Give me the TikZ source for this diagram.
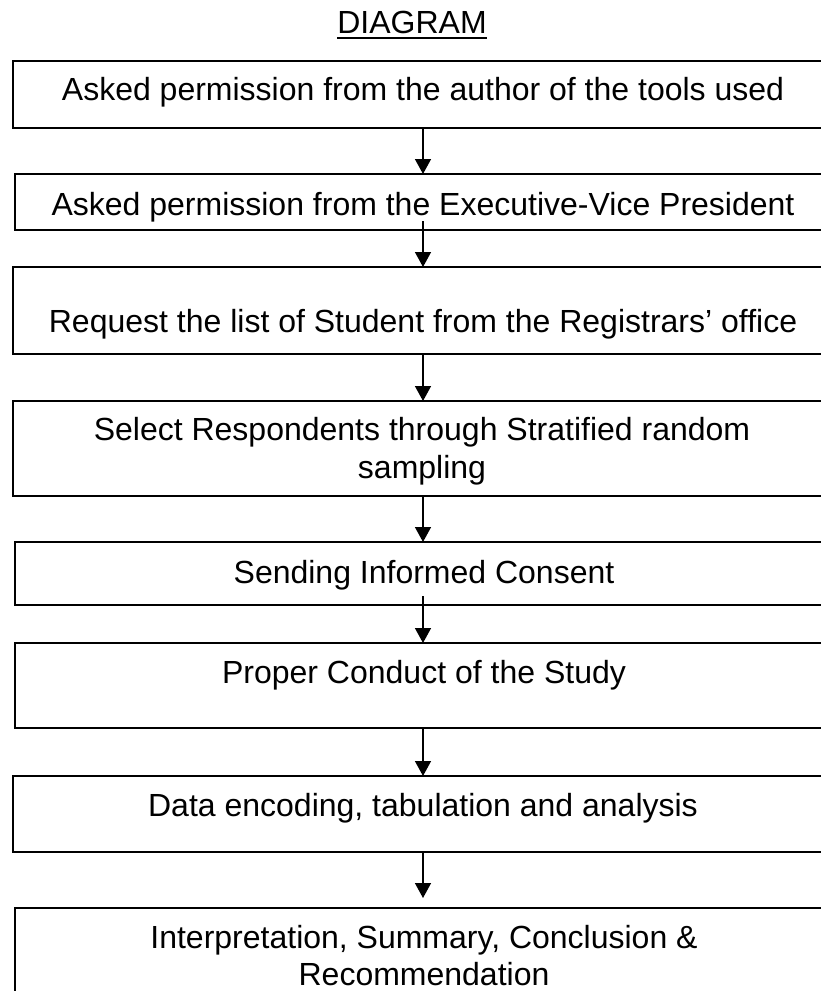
\documentclass[tikz,border=0pt]{standalone}
\usepackage{fontspec}
\setmainfont{Liberation Sans}
\usetikzlibrary{arrows.meta}
\begin{document}
\begin{tikzpicture}[x=1pt,y=-1pt,
  box/.style={draw=black,line width=2pt,rectangle,inner sep=0pt,outer sep=0pt,anchor=north west,minimum width=820pt},
  txt/.style={anchor=base,font=\fontsize{32}{38}\selectfont,inner sep=0pt},
  arr/.style={line width=1.5pt,-{Triangle[width=16pt,length=15pt]}}]
\useasboundingbox (0,0) rectangle (820,991);
% title
\node[txt] (title) at (412,33) {DIAGRAM};
\draw[line width=2pt] ([yshift=-5pt]title.base west) -- ([yshift=-5pt]title.base east);
% boxes
\node[box,minimum height=67pt]  (b1) at (13,61) {};
\node[box,minimum height=56pt]  (b2) at (14.5,174) {};
\node[box,minimum height=87pt]  (b3) at (13,267) {};
\node[box,minimum height=95pt]  (b4) at (13,401) {};
\node[box,minimum height=63pt]  (b5) at (14.5,542) {};
\node[box,minimum height=85pt]  (b6) at (14.5,643) {};
\node[box,minimum height=76pt]  (b7) at (13,776) {};
\node[box,minimum height=102pt] (b8) at (14.5,908) {};
% texts
\node[txt] (t1) at (423,100) {Asked permission from the author of the tools used};
\node[txt] (t2) at (423,215) {Asked permission from the Executive-Vice President};
\node[txt] (t3) at (423,332) {Request the list of Student from the Registrars’ office};
\node[txt] (t4a) at (422,440) {Select Respondents through Stratified random};
\node[txt] (t4b) at (422,478) {sampling};
\node[txt] (t5) at (424,583) {Sending Informed Consent};
\node[txt] (t6) at (424,683) {Proper Conduct of the Study};
\node[txt] (t7) at (423,816) {Data encoding, tabulation and analysis};
\node[txt] (t8a) at (424,948) {Interpretation, Summary, Conclusion \&};
\node[txt] (t8b) at (424,985) {Recommendation};
% arrows
\coordinate (s1) at (423,128);
\draw[arr] (s1) -- (s1 |- b2.north);
\coordinate (s2) at (423,221);
\draw[arr] (s2) -- (s2 |- b3.north);
\coordinate (s3) at (423,354);
\draw[arr] (s3) -- (s3 |- b4.north);
\coordinate (s4) at (423,496);
\draw[arr] (s4) -- (s4 |- b5.north);
\coordinate (s5) at (423,596);
\draw[arr] (s5) -- (s5 |- b6.north);
\coordinate (s6) at (423,728);
\draw[arr] (s6) -- (s6 |- b7.north);
\coordinate (s7) at (423,852);
\coordinate (e7) at (423,898);
\draw[arr] (s7) -- (e7);
\end{tikzpicture}
\end{document}
